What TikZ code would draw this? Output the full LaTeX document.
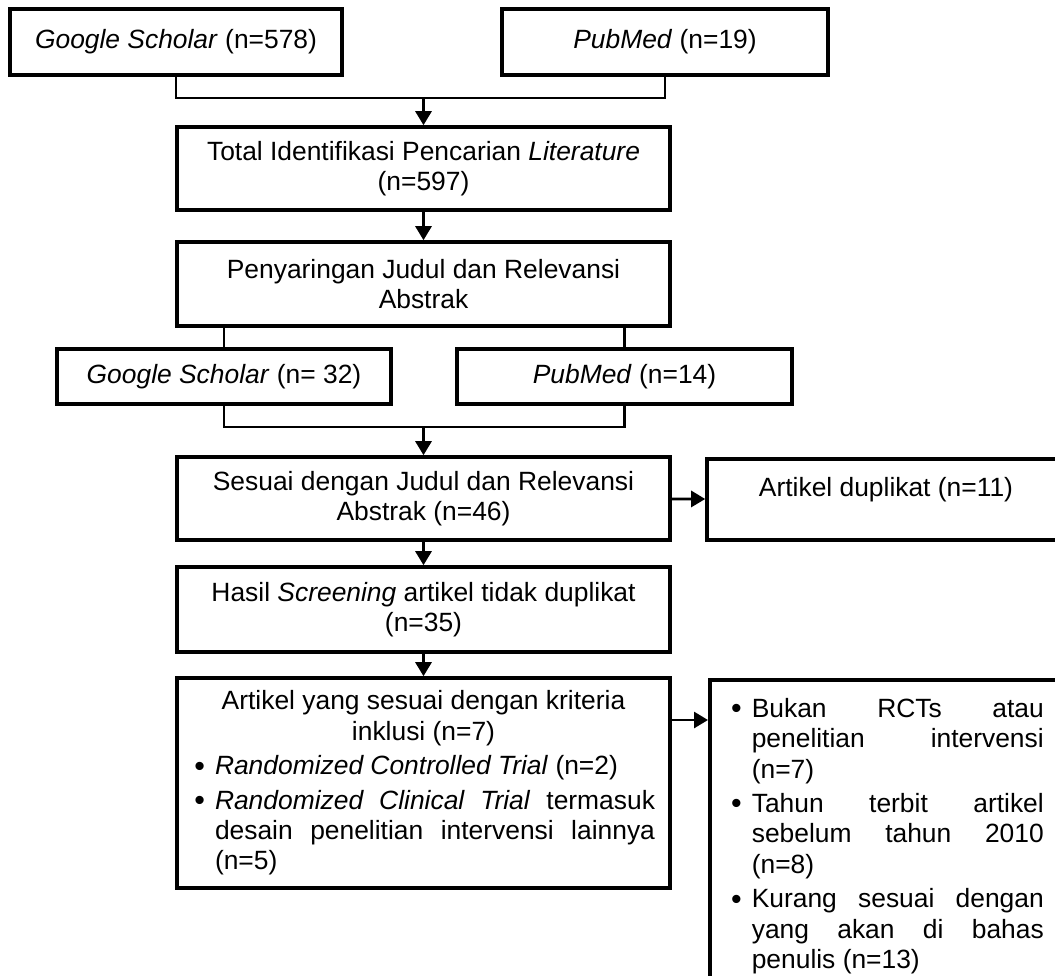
\documentclass[tikz,border=0pt]{standalone}
\usepackage{fontspec}
\setmainfont{Liberation Sans}
\usetikzlibrary{arrows.meta}
\hbadness=10000
\hyphenpenalty=10000
\newcommand{\titik}{\raisebox{-0.7pt}{\scalebox{1.15}{\textbullet}}}
\newenvironment{poin}[2]{\begin{list}{\titik}{%
  \setlength{\leftmargin}{#1}\setlength{\rightmargin}{#2}%
  \setlength{\labelsep}{5pt}\setlength{\labelwidth}{\dimexpr#1-5pt\relax}%
  \setlength{\itemsep}{2pt}\setlength{\parsep}{0pt}%
  \setlength{\topsep}{2pt}\setlength{\partopsep}{0pt}}}{\end{list}}
\tikzset{
  kotak/.style={draw,line width=1.8pt,inner sep=0pt,align=center,font=\fontsize{13.2}{15.2}\selectfont},
  garis/.style={line width=1.4pt},
  panah/.style={garis,-{Triangle[length=7pt,width=8pt]}}
}
\begin{document}
\begin{tikzpicture}[x=0.5pt,y=-0.5pt]
\useasboundingbox (0,0) rectangle (1055,975);
\clip (0,0) rectangle (1055,975);
% identifikasi
\node[kotak,minimum width=166pt,minimum height=33pt](gs1)at(176,42){\textit{Google Scholar} (n=578)};
\node[kotak,minimum width=163pt,minimum height=33pt](pm1)at(665,42){\textit{PubMed} (n=19)};
\node[kotak,minimum width=246.5pt,minimum height=41.5pt](total)at(423.5,168.5){Total Identifikasi Pencarian \textit{Literature}\\(n=597)};
% penyaringan
\node[kotak,minimum width=246.5pt,minimum height=42pt](saring)at(423.5,284){Penyaringan Judul dan Relevansi\\Abstrak};
\node[kotak,minimum width=167pt,minimum height=27.5pt](gs2)at(224,376.5){\textit{Google Scholar} (n= 32)};
\node[kotak,minimum width=167.5pt,minimum height=27.5pt](pm2)at(624.5,376.5){\textit{PubMed} (n=14)};
\node[kotak,minimum width=246.5pt,minimum height=41.5pt](sesuai)at(423.5,498.5){Sesuai dengan Judul dan Relevansi\\Abstrak (n=46)};
\node[kotak,anchor=north,minimum width=179pt,inner ysep=9pt,text height=9.6pt,text depth=12.9pt](duplikat)at(886,457){Artikel duplikat (n=11)};
\node[kotak,minimum width=246.5pt,minimum height=42.5pt](hasil)at(423.5,609.5){Hasil \textit{Screening} artikel tidak duplikat\\(n=35)};
% kelayakan
\node[kotak,text width=231.5pt,inner xsep=7.5pt,minimum height=105pt,align=justify](artikel)at(423.5,783){%
{\centering Artikel yang sesuai dengan kriteria\\inklusi (n=7)\par}
\begin{poin}{11.5pt}{0pt}
\item \textit{Randomized Controlled Trial} (n=2)
\item \textit{Randomized Clinical Trial} termasuk\linebreak desain penelitian intervensi lainnya\linebreak (n=5)
\end{poin}};
\node[kotak,anchor=north west,text width=175pt,inner xsep=6.5pt,inner ysep=1.5pt,align=justify](keluar)at(708,678){%
\begin{poin}{14.5pt}{14.5pt}
\item Bukan RCTs atau\linebreak penelitian intervensi\linebreak (n=7)
\item Tahun terbit artikel\linebreak sebelum tahun 2010\linebreak (n=8)
\item Kurang sesuai dengan\linebreak yang akan di bahas\linebreak penulis (n=13)
\end{poin}\vspace{12pt}};
% penghubung
\coordinate(m1)at(423.5,98);
\coordinate(m2)at(423.5,427);
\coordinate(m3)at(0,720);
\draw[garis](gs1.south)|-(m1)-|(pm1.south);
\draw[panah](m1)--(total.north);
\draw[panah](total)--(saring);
\draw[garis](gs2.north)--(gs2.north|-saring.south);
\draw[garis](pm2.north)--(pm2.north|-saring.south);
\draw[garis](gs2.south)|-(m2)-|(pm2.south);
\draw[panah](m2)--(sesuai.north);
\draw[panah](sesuai)--(duplikat);
\draw[panah](sesuai)--(hasil);
\draw[panah](hasil)--(artikel);
\draw[panah](artikel.east|-m3)--(keluar.west|-m3);
\end{tikzpicture}
\end{document}
